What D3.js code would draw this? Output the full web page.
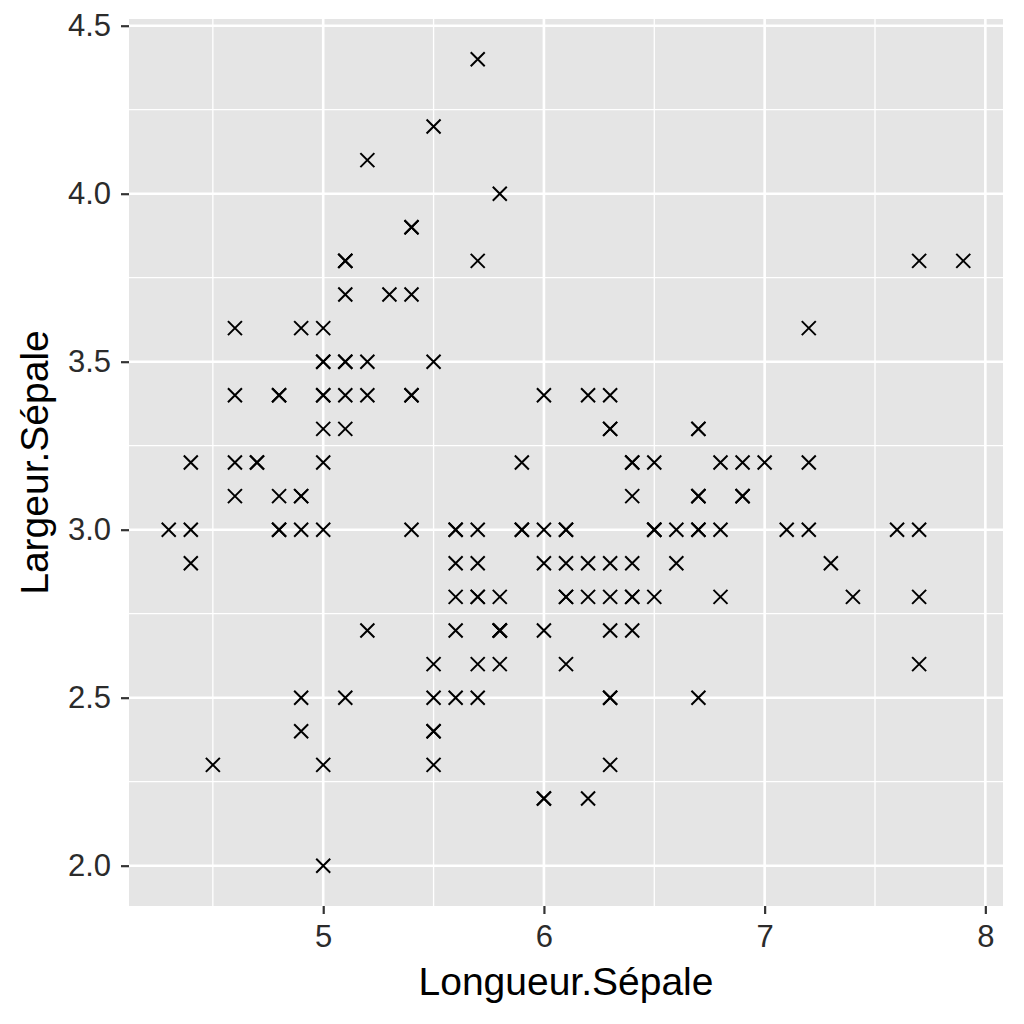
<!DOCTYPE html>
<html><head><meta charset="utf-8">
<script src="https://cdn.jsdelivr.net/npm/d3@7"></script>
<style>body{margin:0;background:#fff}svg{display:block}</style>
</head><body>
<svg id="c" width="1024" height="1024"></svg>
<script>
const sepalLength = [
5.1,4.9,4.7,4.6,5.0,5.4,4.6,5.0,4.4,4.9,5.4,4.8,4.8,4.3,5.8,5.7,5.4,5.1,5.7,5.1,5.4,5.1,4.6,5.1,4.8,5.0,5.0,5.2,5.2,4.7,4.8,5.4,5.2,5.5,4.9,5.0,5.5,4.9,4.4,5.1,5.0,4.5,4.4,5.0,5.1,4.8,5.1,4.6,5.3,5.0,
7.0,6.4,6.9,5.5,6.5,5.7,6.3,4.9,6.6,5.2,5.0,5.9,6.0,6.1,5.6,6.7,5.6,5.8,6.2,5.6,5.9,6.1,6.3,6.1,6.4,6.6,6.8,6.7,6.0,5.7,5.5,5.5,5.8,6.0,5.4,6.0,6.7,6.3,5.6,5.5,5.5,6.1,5.8,5.0,5.6,5.7,5.7,6.2,5.1,5.7,
6.3,5.8,7.1,6.3,6.5,7.6,4.9,7.3,6.7,7.2,6.5,6.4,6.8,5.7,5.8,6.4,6.5,7.7,7.7,6.0,6.9,5.6,7.7,6.3,6.7,7.2,6.2,6.1,6.4,7.2,7.4,7.9,6.4,6.3,6.1,7.7,6.3,6.4,6.0,6.9,6.7,6.9,5.8,6.8,6.7,6.7,6.3,6.5,6.2,5.9];
const sepalWidth = [
3.5,3.0,3.2,3.1,3.6,3.9,3.4,3.4,2.9,3.1,3.7,3.4,3.0,3.0,4.0,4.4,3.9,3.5,3.8,3.8,3.4,3.7,3.6,3.3,3.4,3.0,3.4,3.5,3.4,3.2,3.1,3.4,4.1,4.2,3.1,3.2,3.5,3.6,3.0,3.4,3.5,2.3,3.2,3.5,3.8,3.0,3.8,3.2,3.7,3.3,
3.2,3.2,3.1,2.3,2.8,2.8,3.3,2.4,2.9,2.7,2.0,3.0,2.2,2.9,2.9,3.1,3.0,2.7,2.2,2.5,3.2,2.8,2.5,2.8,2.9,3.0,2.8,3.0,2.9,2.6,2.4,2.4,2.7,2.7,3.0,3.4,3.1,2.3,3.0,2.5,2.6,3.0,2.6,2.3,2.7,3.0,2.9,2.9,2.5,2.8,
3.3,2.7,3.0,2.9,3.0,3.0,2.5,2.9,2.5,3.6,3.2,2.7,3.0,2.5,2.8,3.2,3.0,3.8,2.6,2.2,3.2,2.8,2.8,2.7,3.3,3.2,2.8,3.0,2.8,3.0,2.8,3.8,2.8,2.8,2.6,3.0,3.4,3.1,3.0,3.1,3.1,3.1,2.7,3.2,3.3,3.0,2.5,3.0,3.4,3.0];
const xTicks = [5, 6, 7, 8];
const xMinor = [4.5, 5.5, 6.5, 7.5];
const yTicks = [2.0, 2.5, 3.0, 3.5, 4.0, 4.5];
const yMinor = [2.25, 2.75, 3.25, 3.75, 4.25];
const xLabel = "Longueur.Sépale";
const yLabel = "Largeur.Sépale";

const svg = d3.select("#c");
const L = 129, R = 1003, T = 19, B = 906;
const FONT = "Liberation Sans, Arial, sans-serif";
const [xmin, xmax] = d3.extent(sepalLength), [ymin, ymax] = d3.extent(sepalWidth);
const xp = (xmax - xmin) * 0.05, yp = (ymax - ymin) * 0.05;
const x = d3.scaleLinear().domain([xmin - xp, xmax + xp]).range([L, R]);
const y = d3.scaleLinear().domain([ymin - yp, ymax + yp]).range([B, T]);

svg.append("rect").attr("x", L).attr("y", T).attr("width", R - L).attr("height", B - T).attr("fill", "#e5e5e5");
const g = svg.append("g");
g.selectAll(".xm").data(xMinor).join("line").attr("x1", d => x(d)).attr("x2", d => x(d)).attr("y1", T).attr("y2", B).attr("stroke", "#fff").attr("stroke-width", 1.3);
g.selectAll(".ym").data(yMinor).join("line").attr("y1", d => y(d)).attr("y2", d => y(d)).attr("x1", L).attr("x2", R).attr("stroke", "#fff").attr("stroke-width", 1.3);
g.selectAll(".xM").data(xTicks).join("line").attr("x1", d => x(d)).attr("x2", d => x(d)).attr("y1", T).attr("y2", B).attr("stroke", "#fff").attr("stroke-width", 2.6);
g.selectAll(".yM").data(yTicks).join("line").attr("y1", d => y(d)).attr("y2", d => y(d)).attr("x1", L).attr("x2", R).attr("stroke", "#fff").attr("stroke-width", 2.6);

const xAxis = svg.append("g").attr("transform", `translate(0,${B})`)
  .call(d3.axisBottom(x).tickValues(xTicks).tickFormat(d3.format("d")).tickSize(8).tickPadding(11));
const yAxis = svg.append("g").attr("transform", `translate(${L},0)`)
  .call(d3.axisLeft(y).tickValues(yTicks).tickFormat(d3.format(".1f")).tickSize(8).tickPadding(10));
[xAxis, yAxis].forEach(a => {
  a.select(".domain").remove();
  a.selectAll(".tick line").attr("stroke", "#333").attr("stroke-width", 2.2);
  a.selectAll(".tick text").attr("fill", "#2b2b2b").style("font-family", FONT).style("font-size", "31px");
});

const s = 7;
const pts = svg.append("g").attr("stroke", "#000").attr("stroke-width", 2).attr("fill", "none");
pts.selectAll("path").data(d3.range(sepalLength.length)).join("path")
  .attr("d", i => {
    const cx = x(sepalLength[i]), cy = y(sepalWidth[i]);
    return `M${cx - s},${cy - s}L${cx + s},${cy + s}M${cx - s},${cy + s}L${cx + s},${cy - s}`;
  });

svg.append("text").attr("x", (L + R) / 2).attr("y", 995).attr("text-anchor", "middle")
  .style("font-family", FONT).style("font-size", "39px").attr("fill", "#000").text(xLabel);
svg.append("text").attr("transform", `translate(48,${(T + B) / 2}) rotate(-90)`).attr("text-anchor", "middle")
  .style("font-family", FONT).style("font-size", "39px").attr("fill", "#000").text(yLabel);
</script>
</body></html>
